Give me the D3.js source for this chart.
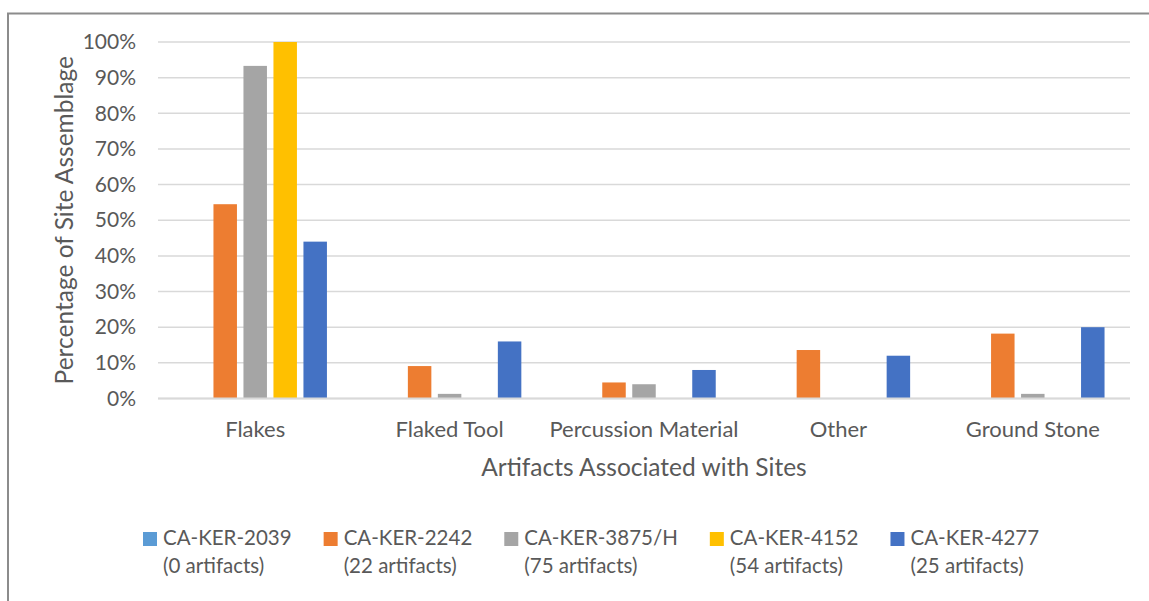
<!DOCTYPE html>
<html>
<head>
<meta charset="utf-8">
<script src="https://cdn.jsdelivr.net/npm/d3@7"></script>
<style>
  body { margin: 0; background: #fff; }
  svg { display: block; font-family: Lato, "Open Sans", sans-serif; }
</style>
</head>
<body>
<div id="chart"></div>
<script>
// categories along the x axis
const categories = ["Flakes", "Flaked Tool", "Percussion Material", "Other", "Ground Stone"]

// one array per site, values are share of that site's assemblage
const sites = ["CA-KER-2039", "CA-KER-2242", "CA-KER-3875/H", "CA-KER-4152", "CA-KER-4277"]
const siteCounts = ["(0 artifacts)", "(22 artifacts)", "(75 artifacts)", "(54 artifacts)", "(25 artifacts)"]
const ker2039 = [0, 0, 0, 0, 0]
const ker2242 = [0.545, 0.091, 0.045, 0.136, 0.182]
const ker3875 = [0.933, 0.013, 0.040, 0, 0.013]
const ker4152 = [1.0, 0, 0, 0, 0]
const ker4277 = [0.44, 0.16, 0.08, 0.12, 0.20]
const yTicks = [0, 0.1, 0.2, 0.3, 0.4, 0.5, 0.6, 0.7, 0.8, 0.9, 1.0]

const colors = ["#5B9BD5", "#ED7D31", "#A5A5A5", "#FFC000", "#4472C4"]
const seriesValues = [ker2039, ker2242, ker3875, ker4152, ker4277]

const width = 1149, height = 601
const margin = {top: 42, right: 19, bottom: 203, left: 158}
const textColor = "#595959"

const svg = d3.select("#chart").append("svg")
    .attr("width", width)
    .attr("height", height)

// chart frame (only top and left edges are visible in the picture)
svg.append("path")
    .attr("d", `M8,${height} V13.5 H${width}`)
    .attr("fill", "none")
    .attr("stroke", "#8c8c8c")
    .attr("stroke-width", 2)

const x0 = d3.scaleBand()
    .domain(categories)
    .range([margin.left, width - margin.right])
    .paddingInner(0.262)
    .paddingOuter(0.131)

const x1 = d3.scaleBand()
    .domain(sites)
    .range([0, x0.bandwidth()])
    .paddingInner(0.217)

const y = d3.scaleLinear()
    .domain([0, 1])
    .range([height - margin.bottom + 0.5, margin.top])

// gridlines
svg.append("g")
    .selectAll("line")
    .data(yTicks)
    .join("line")
    .attr("x1", margin.left)
    .attr("x2", width - margin.right)
    .attr("y1", d => y(d))
    .attr("y2", d => y(d))
    .attr("stroke", "#d9d9d9")
    .attr("stroke-width", 1.5)

// y axis tick labels
const yAxis = svg.append("g")
    .attr("transform", `translate(${margin.left - 22},0)`)
    .call(d3.axisLeft(y).tickValues(yTicks).tickFormat(d3.format(".0%")).tickSize(0).tickPadding(0))
yAxis.select(".domain").remove()
yAxis.selectAll("text")
    .attr("fill", textColor)
    .attr("font-size", 21)
    .attr("font-family", "Lato, 'Open Sans', sans-serif")

// bars
const rows = categories.map((c, i) => ({
    category: c,
    values: sites.map((s, j) => ({site: s, value: seriesValues[j][i], color: colors[j]}))
}))

svg.append("g")
    .selectAll("g")
    .data(rows)
    .join("g")
    .attr("transform", d => `translate(${x0(d.category)},0)`)
    .selectAll("rect")
    .data(d => d.values)
    .join("rect")
    .attr("x", d => x1(d.site))
    .attr("width", x1.bandwidth())
    .attr("y", d => y(d.value))
    .attr("height", d => y(0) - y(d.value))
    .attr("fill", d => d.color)

// x axis line
svg.append("line")
    .attr("x1", margin.left)
    .attr("x2", width - margin.right)
    .attr("y1", y(0))
    .attr("y2", y(0))
    .attr("stroke", "#d9d9d9")
    .attr("stroke-width", 2)

// category labels
const xAxis = svg.append("g")
    .attr("transform", `translate(0,${y(0)})`)
    .call(d3.axisBottom(x0).tickSize(0).tickPadding(23))
xAxis.select(".domain").remove()
xAxis.selectAll("text")
    .attr("fill", textColor)
    .attr("font-size", 22)
    .attr("font-family", "Lato, 'Open Sans', sans-serif")

// axis titles
svg.append("text")
    .attr("x", (margin.left + width - margin.right) / 2)
    .attr("y", 476)
    .attr("text-anchor", "middle")
    .attr("fill", textColor)
    .attr("font-size", 24.5)
    .text("Artifacts Associated with Sites")

svg.append("text")
    .attr("transform", `translate(73,${(y(0) + y(1)) / 2}) rotate(-90)`)
    .attr("text-anchor", "middle")
    .attr("fill", textColor)
    .attr("font-size", 24.5)
    .text("Percentage of Site Assemblage")

// legend, entries placed one after another by their text width
const legend = svg.append("g")
    .selectAll("g")
    .data(sites)
    .join("g")

legend.append("rect")
    .attr("y", 532)
    .attr("width", 14)
    .attr("height", 14)
    .attr("fill", (d, i) => colors[i])

legend.append("text")
    .attr("x", 20)
    .attr("y", 545)
    .attr("fill", textColor)
    .attr("font-size", 20.5)
    .text(d => d)

legend.append("text")
    .attr("x", 20)
    .attr("y", 573)
    .attr("fill", textColor)
    .attr("font-size", 20.5)
    .text((d, i) => siteCounts[i])

let legendX = 143
legend.each(function() {
    const g = d3.select(this)
    g.attr("transform", `translate(${legendX},0)`)
    const w = d3.max(g.selectAll("text").nodes(), n => n.getComputedTextLength())
    legendX += 20 + w + 32
})
</script>
</body>
</html>
